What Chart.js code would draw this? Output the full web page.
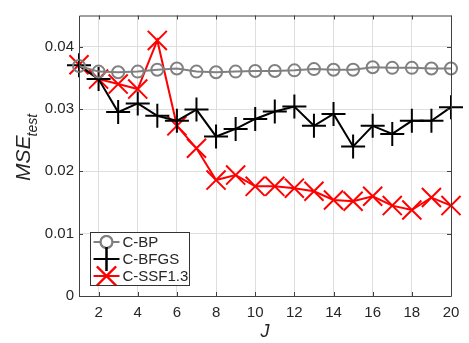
<!DOCTYPE html>
<html>
<head>
<meta charset="utf-8">
<script src="https://cdn.jsdelivr.net/npm/chart.js@4/dist/chart.umd.min.js"></script>
<style>
  html, body { margin: 0; padding: 0; background: #fff; }
  #wrap { width: 469px; height: 343px; position: relative; }
</style>
</head>
<body>
<div id="wrap"><canvas id="c" width="469" height="343"></canvas></div>
<script>
// values
const J = [1, 2, 3, 4, 5, 6, 7, 8, 9, 10, 11, 12, 13, 14, 15, 16, 17, 18, 19, 20];
const cBP = [0.0369, 0.0360, 0.0359, 0.0360, 0.0363, 0.0365, 0.0360, 0.0359, 0.0360, 0.0361,
             0.0361, 0.0362, 0.0364, 0.0363, 0.0363, 0.0367, 0.0366, 0.0366, 0.0365, 0.0365];
const cBFGS = [0.0370, 0.0348, 0.0295, 0.0309, 0.0289, 0.0281, 0.0299, 0.0256, 0.0268, 0.0284,
               0.0296, 0.0304, 0.0273, 0.0292, 0.0240, 0.0273, 0.0260, 0.0281, 0.0281, 0.0303];
const cSSF = [0.0371, 0.0348, 0.0340, 0.0332, 0.0410, 0.0273, 0.0237, 0.0186, 0.0194, 0.0176,
              0.0176, 0.0173, 0.0168, 0.0154, 0.0152, 0.0160, 0.0145, 0.0138, 0.0158, 0.0145];
const seriesNames = ["C-BP", "C-BFGS", "C-SSF1.3"];
const xTicks = [2, 4, 6, 8, 10, 12, 14, 16, 18, 20];
const yTicks = [0, 0.01, 0.02, 0.03, 0.04];

const FONT = "'Liberation Sans', Arial, sans-serif";
const AXIS = "#404040";
const TXT = "#262626";

const styles = [
  { color: "#808080", point: "circle", r: 6 },
  { color: "#000000", point: "cross", r: 12 },
  { color: "#ff0000", point: "crossRot", r: 13.5 },
];

function pts(ys) { return J.map((x, i) => ({ x: x, y: ys[i] })); }

const datasets = [cBP, cBFGS, cSSF].map((ys, i) => ({
  label: seriesNames[i],
  data: pts(ys),
  borderColor: styles[i].color,
  backgroundColor: "rgba(0,0,0,0)",
  borderWidth: 2,
  pointStyle: styles[i].point,
  pointRadius: styles[i].r,
  pointBorderWidth: 2,
  pointBorderColor: styles[i].color,
  pointBackgroundColor: "rgba(0,0,0,0)",
  tension: 0,
  clip: false,
}));

// box, inward ticks, axis titles and legend in matlab style
const matlabBits = {
  id: "matlabBits",
  afterDraw(chart) {
    const { ctx, chartArea: a, scales } = chart;
    const xs = scales.x, ys = scales.y;
    ctx.save();
    ctx.strokeStyle = AXIS;
    ctx.lineWidth = 1;
    ctx.beginPath();
    ctx.moveTo(a.left + 0.5, a.top + 0.5);
    ctx.lineTo(a.right + 0.5, a.top + 0.5);
    ctx.lineTo(a.right + 0.5, a.bottom + 0.5);
    ctx.lineTo(a.left + 0.5, a.bottom + 0.5);
    ctx.closePath();
    ctx.stroke();
    // ticks
    ctx.beginPath();
    xTicks.forEach(v => {
      const px = Math.round(xs.getPixelForValue(v)) + 0.5;
      ctx.moveTo(px, a.bottom); ctx.lineTo(px, a.bottom - 4);
      ctx.moveTo(px, a.top); ctx.lineTo(px, a.top + 4);
    });
    yTicks.forEach(v => {
      const py = Math.round(ys.getPixelForValue(v)) + 0.5;
      ctx.moveTo(a.left, py); ctx.lineTo(a.left + 4, py);
      ctx.moveTo(a.right, py); ctx.lineTo(a.right - 4, py);
    });
    ctx.stroke();

    // x title
    ctx.fillStyle = TXT;
    ctx.font = "italic 18px " + FONT;
    ctx.textAlign = "center";
    ctx.textBaseline = "middle";
    ctx.fillText("J", (a.left + a.right) / 2, 332);

    // y title with subscript
    ctx.save();
    ctx.translate(30, 181);
    ctx.rotate(-Math.PI / 2);
    ctx.textAlign = "left";
    ctx.textBaseline = "alphabetic";
    ctx.font = "italic 21px " + FONT;
    const w1 = ctx.measureText("MSE").width;
    ctx.fillText("MSE", 0, 0);
    ctx.font = "italic 14px " + FONT;
    ctx.fillText("test", w1 - 1, 7);
    ctx.restore();

    // legend
    const lx = 90.5, ly = 232.5, lw = 99, lh = 53;
    ctx.fillStyle = "#fff";
    ctx.fillRect(lx, ly, lw, lh);
    const rows = [242, 259, 276];
    seriesNames.forEach((name, i) => {
      const s = styles[i];
      ctx.strokeStyle = s.color;
      ctx.lineWidth = 2;
      ctx.beginPath();
      ctx.moveTo(lx + 3, rows[i]); ctx.lineTo(lx + 29, rows[i]);
      ctx.stroke();
      Chart.helpers.drawPoint(ctx, { pointStyle: s.point, radius: s.r, borderWidth: 2 }, lx + 16, rows[i]);
      ctx.stroke();
    });
    ctx.strokeStyle = "#333";
    ctx.lineWidth = 1;
    ctx.strokeRect(lx, ly, lw, lh);
    ctx.fillStyle = TXT;
    ctx.font = "15px " + FONT;
    ctx.textAlign = "left";
    ctx.textBaseline = "middle";
    seriesNames.forEach((name, i) => ctx.fillText(name, lx + 32, rows[i] + 1));
    ctx.restore();
  }
};

new Chart(document.getElementById("c"), {
  type: "line",
  data: { datasets: datasets },
  options: {
    responsive: false,
    animation: false,
    layout: { padding: { top: 4, right: 18, left: 0, bottom: 0 } },
    plugins: { legend: { display: false }, tooltip: { enabled: false } },
    scales: {
      x: {
        type: "linear",
        min: 1, max: 20,
        afterFit(s) { s.height = 47; },
        afterBuildTicks(s) { s.ticks = xTicks.map(v => ({ value: v })); },
        grid: { color: "#dedede", drawTicks: false },
        border: { display: false },
        ticks: { color: TXT, font: { family: FONT, size: 15 }, padding: 8, maxRotation: 0 },
      },
      y: {
        min: 0, max: 0.045,
        afterFit(s) { s.width = 79; },
        afterBuildTicks(s) { s.ticks = yTicks.map(v => ({ value: v })); },
        grid: { color: "#dedede", drawTicks: false },
        border: { display: false },
        ticks: {
          color: TXT, font: { family: FONT, size: 15 }, padding: 5,
          callback: v => (v === 0 ? "0" : v.toFixed(2)),
        },
      },
    },
  },
  plugins: [matlabBits],
});
</script>
</body>
</html>
